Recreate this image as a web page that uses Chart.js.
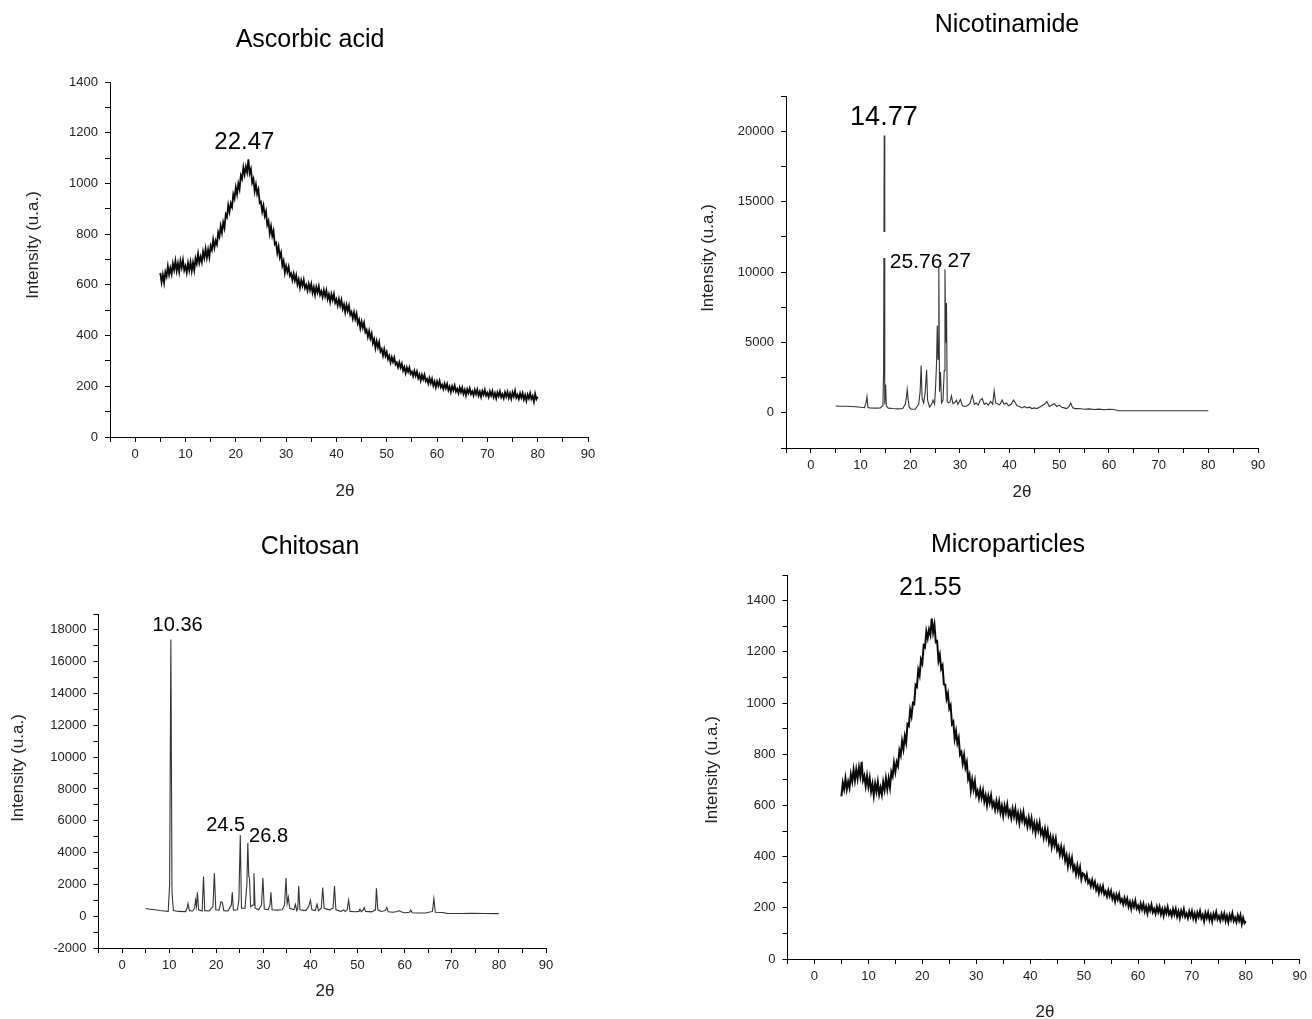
<!DOCTYPE html>
<html><head><meta charset="utf-8">
<script src="https://cdn.jsdelivr.net/npm/chart.js@4.4.1/dist/chart.umd.min.js"></script>
<style>
html,body{margin:0;padding:0;background:#fff;}
body{width:1312px;height:1019px;position:relative;overflow:hidden;}
.panel{position:absolute;}
</style></head><body>
<div class="panel" style="left:0;top:0;width:656px;height:509px"><canvas id="c1"></canvas></div>
<div class="panel" style="left:656px;top:0;width:656px;height:509px"><canvas id="c2"></canvas></div>
<div class="panel" style="left:0;top:509px;width:656px;height:510px"><canvas id="c3"></canvas></div>
<div class="panel" style="left:656px;top:509px;width:656px;height:510px"><canvas id="c4"></canvas></div>
<script>
// ---------- DATA ----------
const panelTitles = ['Ascorbic acid', 'Nicotinamide', 'Chitosan', 'Microparticles'];
const xAxisTitle = '2θ';
const yAxisTitle = 'Intensity (u.a.)';

// shared 2θ grid (0.25° step) of the two amorphous patterns
const thetaGrid = [
  5,5.25,5.5,5.75,6,6.25,6.5,6.75,
  7,7.25,7.5,7.75,8,8.25,8.5,8.75,
  9,9.25,9.5,9.75,10,10.25,10.5,10.75,
  11,11.25,11.5,11.75,12,12.25,12.5,12.75,
  13,13.25,13.5,13.75,14,14.25,14.5,14.75,
  15,15.25,15.5,15.75,16,16.25,16.5,16.75,
  17,17.25,17.5,17.75,18,18.25,18.5,18.75,
  19,19.25,19.5,19.75,20,20.25,20.5,20.75,
  21,21.25,21.5,21.75,22,22.25,22.5,22.75,
  23,23.25,23.5,23.75,24,24.25,24.5,24.75,
  25,25.25,25.5,25.75,26,26.25,26.5,26.75,
  27,27.25,27.5,27.75,28,28.25,28.5,28.75,
  29,29.25,29.5,29.75,30,30.25,30.5,30.75,
  31,31.25,31.5,31.75,32,32.25,32.5,32.75,
  33,33.25,33.5,33.75,34,34.25,34.5,34.75,
  35,35.25,35.5,35.75,36,36.25,36.5,36.75,
  37,37.25,37.5,37.75,38,38.25,38.5,38.75,
  39,39.25,39.5,39.75,40,40.25,40.5,40.75,
  41,41.25,41.5,41.75,42,42.25,42.5,42.75,
  43,43.25,43.5,43.75,44,44.25,44.5,44.75,
  45,45.25,45.5,45.75,46,46.25,46.5,46.75,
  47,47.25,47.5,47.75,48,48.25,48.5,48.75,
  49,49.25,49.5,49.75,50,50.25,50.5,50.75,
  51,51.25,51.5,51.75,52,52.25,52.5,52.75,
  53,53.25,53.5,53.75,54,54.25,54.5,54.75,
  55,55.25,55.5,55.75,56,56.25,56.5,56.75,
  57,57.25,57.5,57.75,58,58.25,58.5,58.75,
  59,59.25,59.5,59.75,60,60.25,60.5,60.75,
  61,61.25,61.5,61.75,62,62.25,62.5,62.75,
  63,63.25,63.5,63.75,64,64.25,64.5,64.75,
  65,65.25,65.5,65.75,66,66.25,66.5,66.75,
  67,67.25,67.5,67.75,68,68.25,68.5,68.75,
  69,69.25,69.5,69.75,70,70.25,70.5,70.75,
  71,71.25,71.5,71.75,72,72.25,72.5,72.75,
  73,73.25,73.5,73.75,74,74.25,74.5,74.75,
  75,75.25,75.5,75.75,76,76.25,76.5,76.75,
  77,77.25,77.5,77.75,78,78.25,78.5,78.75,
  79,79.25,79.5,79.75,80
];
const ascorbicIntensity = [
  647,610,640,608,651,633,673,640,
  666,643,684,659,694,656,685,652,
  694,668,698,657,674,648,686,658,
  690,655,688,658,704,684,722,687,
  711,689,731,706,742,707,739,709,
  754,738,778,747,774,759,807,790,
  832,805,846,824,878,867,914,888,
  921,907,957,940,984,957,999,977,
  1031,1018,1063,1035,1066,1044,1095,1040,
  1057,1003,1018,969,996,958,976,923,
  928,889,913,872,890,837,852,803,
  831,793,813,760,766,726,751,709,
  727,676,694,648,675,651,671,635,
  645,619,644,617,638,602,621,589,
  618,597,620,587,600,577,604,580,
  603,569,590,560,591,570,594,561,
  575,552,579,555,578,544,563,533,
  563,541,564,530,543,518,544,518,
  540,505,523,492,521,497,518,482,
  493,467,492,465,486,448,463,429,
  455,430,450,413,423,395,418,389,
  408,370,386,351,378,353,374,337,
  347,321,346,319,335,307,320,294,
  315,296,313,286,294,275,294,274,
  289,262,276,252,274,257,274,249,
  258,240,261,241,258,232,246,223,
  245,228,245,220,229,211,232,212,
  229,203,219,196,219,202,221,196,
  206,189,210,192,209,184,199,177,
  200,184,203,179,190,173,195,177,
  195,170,186,164,188,173,192,169,
  180,164,186,169,187,163,179,158,
  182,167,186,163,174,158,180,163,
  181,157,173,152,176,161,180,157,
  169,153,176,159,178,154,172,151,
  176,160,182,155,166,150,172,155,
  173,148,165,143,167,152,173,150,
  162,139,170,149,158
];
const microIntensity = [
  635,688,663,706,663,693,669,721,
  693,739,698,740,705,749,715,770,
  698,715,676,715,673,707,655,684,
  638,685,654,692,643,670,642,691,
  660,705,664,705,670,731,714,766,
  731,770,754,815,796,851,820,870,
  845,917,910,973,948,1000,996,1070,
  1063,1129,1108,1170,1155,1225,1218,1279,
  1253,1287,1266,1330,1276,1306,1238,1242,
  1165,1188,1133,1146,1073,1072,1016,1037,
  978,991,918,927,860,890,843,864,
  798,808,764,796,748,769,703,720,
  660,700,663,694,641,657,628,662,
  630,658,615,639,600,637,610,639,
  596,612,583,617,585,615,572,598,
  560,599,572,603,561,579,551,587,
  557,587,544,570,532,570,543,573,
  531,547,518,552,520,549,506,531,
  493,530,503,532,489,505,474,508,
  475,502,456,479,438,473,444,471,
  426,440,408,439,405,430,384,405,
  363,398,367,394,348,363,331,364,
  330,357,312,335,331,310,330,297,
  307,285,308,283,301,270,286,258,
  283,263,284,253,264,244,268,246,
  265,235,252,225,251,232,253,223,
  234,214,238,216,235,205,223,196,
  223,204,227,197,209,190,216,194,
  215,186,205,179,207,189,212,183,
  196,177,204,183,204,175,195,169,
  197,179,203,174,187,168,195,174,
  195,166,186,160,188,170,194,165,
  178,160,186,166,187,159,178,153,
  181,164,187,159,172,148,180,160,
  181,153,172,147,176,159,183,155,
  168,150,176,156,177,149,169,144,
  172,154,178,149,162,144,170,150,
  171,137,160,140,148
];

const nicoTheta = [
  5,6,7,8,9,10,10.8,11.1,11.3,11.5,
  12,13,14,14.5,14.65,14.77,14.88,14.95,15.05,15.2,
  15.6,16.5,17.5,18.5,19.0,19.2,19.4,19.6,19.8,20.2,
  21,21.7,22.0,22.2,22.4,22.7,23.0,23.3,23.5,23.9,
  24.3,24.6,24.9,25.1,25.3,25.45,25.6,25.76,25.9,26.1,
  26.3,26.6,26.85,27.0,27.15,27.3,27.45,27.7,28.0,28.3,
  28.6,29.0,29.3,29.6,30.1,30.5,31.0,31.5,32.0,32.5,
  32.9,33.3,33.7,34.1,34.5,34.9,35.3,35.7,36.2,36.6,
  36.9,37.2,37.6,38.0,38.5,38.9,39.4,39.8,40.3,40.8,
  41.1,41.5,42.0,42.5,43.0,43.5,44.0,44.5,45.0,45.5,
  46.0,46.5,47.0,47.5,48.0,48.5,49.0,49.5,50.0,50.5,
  51.0,51.5,52.0,52.3,52.7,53.2,54.0,55.0,56.0,57.0,
  58.0,59.0,60.0,61.0,62.0,63.0,65,70,75,80
];
const nicoIntensity = [
  480,470,460,450,430,390,360,700,1150,380,
  340,330,340,500,3000,19700,600,1200,2000,500,
  330,300,280,300,600,1000,1650,900,400,250,
  250,600,1500,3350,1000,700,1400,3050,900,400,
  600,900,600,1800,3500,6200,3800,10300,1500,2900,
  700,900,3000,10200,5000,7800,800,700,750,1200,
  650,750,900,600,950,500,450,500,650,1250,
  600,700,550,900,1000,600,700,550,800,600,
  1550,700,650,550,900,600,700,500,600,900,
  750,500,450,350,450,350,400,300,350,300,
  400,500,600,800,450,550,650,450,550,400,
  350,300,450,700,350,300,300,250,280,230,
  260,220,250,230,150,150,150,150,150,150
];

const chitoTheta = [
  5,6,7,8,9,9.8,10.1,10.36,10.6,10.9,
  12,13.5,13.8,14.0,14.3,15.0,15.4,15.6,15.8,16.0,
  16.25,17.0,17.3,17.55,18.5,19.3,19.6,19.9,20.6,21.0,
  21.3,21.6,22.5,23.2,23.4,23.65,24.5,24.8,25.1,25.35,
  26.1,26.5,26.7,26.9,27.05,27.3,27.8,28.0,28.25,29.0,
  29.6,29.9,30.2,31.0,31.4,31.6,31.85,33.0,34.0,34.5,
  34.8,35.05,35.3,35.6,36.5,36.8,37.1,37.3,37.5,37.75,
  39.0,39.6,40.0,40.3,41.0,41.4,41.7,42.3,42.6,42.9,
  44.0,44.8,45.1,45.4,46.0,46.5,47.0,47.4,47.8,48.1,
  48.4,49.5,50.3,50.5,50.8,51.2,51.4,51.7,53.0,53.8,
  54.0,54.3,55.0,55.9,56.2,56.5,57.5,58.5,58.8,59.2,
  60.0,61.0,61.3,61.6,63.0,64.5,65.9,66.2,66.5,68.0,
  69.0,72.0,74.0,77.0,80.0
];
const chitoIntensity = [
  480,440,400,360,330,300,2000,17400,1500,350,
  300,290,500,800,350,330,500,1000,600,1500,
  400,330,2500,350,330,600,2700,400,380,900,
  850,350,330,700,1500,380,400,1000,5100,500,
  500,2000,4600,2500,2400,600,700,2700,500,400,
  700,2400,450,400,700,1500,400,380,400,700,
  2400,800,1200,500,400,750,350,500,1900,400,
  350,600,1000,400,350,750,350,500,1800,500,
  400,500,1900,400,350,300,400,300,400,1000,
  300,280,300,450,280,400,550,300,270,400,
  1750,400,300,350,550,280,250,300,350,280,
  220,250,380,220,200,200,300,1100,250,230,
  180,170,180,170,160
];

// tick values / labels
const xTickValues = [-5,0,5,10,15,20,25,30,35,40,45,50,55,60,65,70,75,80,85,90];
const xTickLabels = ['','0','','10','','20','','30','','40','','50','','60','','70','','80','','90'];
const yTicks1 = [0,100,200,300,400,500,600,700,800,900,1000,1100,1200,1300,1400];
const yLabels1 = ['0','','200','','400','','600','','800','','1000','','1200','','1400'];
const yTicks2 = [-2500,0,2500,5000,7500,10000,12500,15000,17500,20000,22500];
const yLabels2 = ['','0','','5000','','10000','','15000','','20000',''];
const yTicks3 = [-2000,-1000,0,1000,2000,3000,4000,5000,6000,7000,8000,9000,10000,11000,12000,13000,14000,15000,16000,17000,18000,19000];
const yLabels3 = ['-2000','','0','','2000','','4000','','6000','','8000','','10000','','12000','','14000','','16000','','18000',''];
const yTicks4 = [0,100,200,300,400,500,600,700,800,900,1000,1100,1200,1300,1400,1500];
const yLabels4 = ['0','','200','','400','','600','','800','','1000','','1200','','1400',''];

// ---------- RENDER ----------
const FONT = '"Liberation Sans", Arial, Helvetica, sans-serif';

const decorPlugin = {
  id: 'panelDecor',
  afterDatasetsDraw(chart, args, o) {
    const ctx = chart.ctx;
    (o.masks || []).forEach(m => {
      ctx.save(); ctx.fillStyle = '#fff'; ctx.fillRect(m[0], m[1], m[2], m[3]); ctx.restore();
    });
  },
  afterDraw(chart, args, o) {
    const ctx = chart.ctx, xs = chart.scales.x, ys = chart.scales.y;
    ctx.save();
    ctx.textAlign = 'center'; ctx.textBaseline = 'middle';
    ctx.fillStyle = '#000';
    ctx.font = o.titleSize + 'px ' + FONT;
    ctx.fillText(o.title, o.titlePos[0], o.titlePos[1]);
    ctx.fillStyle = '#222';
    ctx.font = o.axisSize + 'px ' + FONT;
    ctx.fillText(xAxisTitle, o.xTitlePos[0], o.xTitlePos[1]);
    ctx.save();
    ctx.translate(o.yTitlePos[0], o.yTitlePos[1]);
    ctx.rotate(-Math.PI / 2);
    ctx.fillText(yAxisTitle, 0, 0);
    ctx.restore();
    (o.peaks || []).forEach(p => {
      ctx.font = p.size + 'px ' + FONT;
      ctx.fillStyle = '#000';
      ctx.textAlign = p.align || 'center';
      ctx.fillText(p.text, xs.getPixelForValue(p.x), ys.getPixelForValue(p.y));
    });
    ctx.restore();
  }
};

function makePanel(id, cfg) {
  const points = cfg.theta.map((t, i) => ({ x: t, y: cfg.values[i] }));
  const axisCommon = {
    type: 'linear',
    grid: { display: true, drawOnChartArea: false, drawTicks: true, tickLength: 5, tickColor: '#000', tickWidth: 1 },
    border: { display: true, color: '#000', width: 1 },
  };
  return new Chart(document.getElementById(id), {
    type: 'line',
    data: { datasets: [{ data: points, borderColor: cfg.color, borderWidth: cfg.lw, pointRadius: 0, tension: 0, fill: false, borderJoinStyle: 'miter' }] },
    options: {
      responsive: true, maintainAspectRatio: false, animation: false,
      events: [],
      layout: { autoPadding: false, padding: cfg.pad },
      plugins: { legend: { display: false }, tooltip: { enabled: false }, title: { display: false }, panelDecor: cfg.decor },
      scales: {
        x: Object.assign({}, axisCommon, {
          min: -5, max: 90,
          afterFit: s => { s.height = 40; },
          afterBuildTicks: s => { s.ticks = xTickValues.map(v => ({ value: v })); },
          ticks: { autoSkip: false, maxRotation: 0, minRotation: 0, padding: 5, color: '#222', font: { family: FONT, size: 13 },
                   callback: (v, i) => xTickLabels[i] }
        }),
        y: Object.assign({}, axisCommon, {
          min: cfg.yTicks[0], max: cfg.yTicks[cfg.yTicks.length - 1],
          afterFit: s => { s.width = 60; },
          afterBuildTicks: s => { s.ticks = cfg.yTicks.map(v => ({ value: v })); },
          ticks: { autoSkip: false, padding: 7, color: '#222', font: { family: FONT, size: 13 },
                   callback: (v, i) => cfg.yLabels[i] }
        })
      }
    },
    plugins: [decorPlugin]
  });
}

makePanel('c1', {
  theta: thetaGrid, values: ascorbicIntensity, color: '#0a0a0a', lw: 1.8,
  yTicks: yTicks1, yLabels: yLabels1,
  pad: { left: 50, right: 68, top: 82, bottom: 32 },
  decor: { title: panelTitles[0], titleSize: 25, titlePos: [310, 40], axisSize: 17,
           xTitlePos: [345, 491], yTitlePos: [33, 245],
           peaks: [{ text: '22.47', x: 21.7, y: 1160, size: 24 }] }
});
makePanel('c2', {
  theta: nicoTheta, values: nicoIntensity, color: '#333', lw: 1.1,
  yTicks: yTicks2, yLabels: yLabels2,
  pad: { left: 70, right: 54, top: 96, bottom: 21 },
  decor: { title: panelTitles[1], titleSize: 25, titlePos: [1007 - 656, 25], axisSize: 17,
           xTitlePos: [366, 492], yTitlePos: [52, 258],
           masks: [[221, 232, 69, 26]],
           peaks: [{ text: '14.77', x: 14.7, y: 21000, size: 27 },
                   { text: '25.76', x: 15.9, y: 10700, size: 21, align: 'left' },
                   { text: '27', x: 27.5, y: 10750, size: 21, align: 'left' }] }
});
makePanel('c3', {
  theta: chitoTheta, values: chitoIntensity, color: '#333', lw: 1.1,
  yTicks: yTicks3, yLabels: yLabels3,
  pad: { left: 38.5, right: 110, top: 105, bottom: 31 },
  decor: { title: panelTitles[2], titleSize: 25, titlePos: [310, 38], axisSize: 17,
           xTitlePos: [325, 482], yTitlePos: [18, 259],
           peaks: [{ text: '10.36', x: 11.8, y: 18300, size: 20 },
                   { text: '24.5', x: 22.0, y: 5720, size: 20 },
                   { text: '26.8', x: 31.1, y: 5030, size: 20 }] }
});
makePanel('c4', {
  theta: thetaGrid, values: microIntensity, color: '#0a0a0a', lw: 2.0,
  yTicks: yTicks4, yLabels: yLabels4,
  pad: { left: 71.5, right: 7, top: 66, bottom: 20 },
  decor: { title: panelTitles[3], titleSize: 25, titlePos: [352, 36], axisSize: 17,
           xTitlePos: [389, 503], yTitlePos: [56, 261],
           peaks: [{ text: '21.55', x: 21.5, y: 1448, size: 25 }] }
});
</script>
</body></html>
